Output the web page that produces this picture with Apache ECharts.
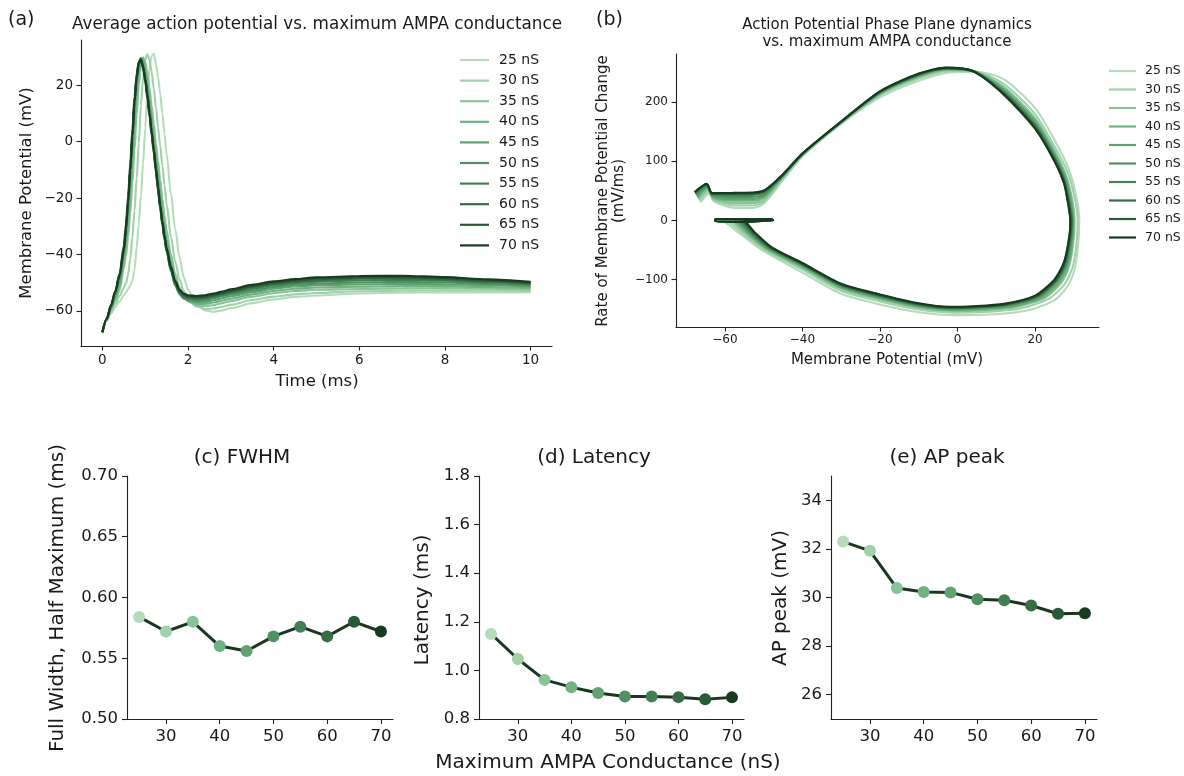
<!DOCTYPE html>
<html>
<head>
<meta charset="utf-8">
<script src="https://cdn.jsdelivr.net/npm/echarts@6/dist/echarts.min.js"></script>
<style>
html,body{margin:0;padding:0;background:#fff;}
#chart{width:1184px;height:776px;}
</style>
</head>
<body>
<div id="chart"></div>
<script>
// ---------------- DATA ----------------
const seriesNames = ['25 nS','30 nS','35 nS','40 nS','45 nS','50 nS','55 nS','60 nS','65 nS','70 nS'];
const conductance = [25, 30, 35, 40, 45, 50, 55, 60, 65, 70];
const greens = ['#b4dcbb','#a0d1a9','#89c498','#71b283','#61a272','#509163','#428053','#356d44','#275a35','#183a21'];

// (a) membrane potential (mV) vs time (ms)
const timeMs = [0,0.1,0.2,0.3,0.4,0.5,0.55,0.6,0.65,0.7,0.75,0.8,0.85,0.9,0.95,1.0,1.05,1.1,1.15,1.2,1.25,1.3,1.35,1.4,1.45,1.5,1.6,1.7,1.8,1.9,2.0,2.2,2.4,2.6,2.8,3.0,3.5,4.0,4.5,5,6,7,8,9,10];
const v25 = [-67.5,-63.4,-60.9,-58.7,-56.6,-54.5,-53.4,-52.3,-51.0,-49.2,-45.5,-37.5,-29.0,-19.2,-7.7,4.8,17.4,26.2,30.4,31.2,27.6,22.8,16.9,10.1,2.8,-4.5,-18.5,-31.0,-41.0,-48.0,-52.5,-57.5,-59.8,-60.3,-59.8,-59.0,-57.2,-55.9,-55.0,-54.5,-53.8,-53.5,-53.4,-53.4,-53.4];
const v30 = [-67.5,-63.3,-60.3,-57.5,-54.7,-51.8,-50.1,-47.2,-41.5,-34.0,-24.5,-13.0,-0.5,12.7,22.8,29.0,31.0,29.0,24.6,18.9,12.2,5.1,-1.6,-8.6,-15.4,-22.2,-33.8,-42.5,-48.8,-53.0,-55.7,-58.4,-59.3,-59.1,-58.5,-57.8,-56.1,-54.9,-54.1,-53.6,-53.0,-52.8,-52.7,-52.8,-52.9];
const v35 = [-67.5,-63.3,-59.8,-56.5,-52.8,-45.0,-40.4,-34.0,-25.3,-14.7,-2.9,9.6,20.0,26.6,29.9,28.4,24.3,19.0,12.8,6.1,-0.6,-6.8,-13.5,-20.1,-26.0,-31.4,-40.0,-46.8,-51.6,-54.8,-56.6,-58.1,-58.3,-57.9,-57.2,-56.5,-54.9,-53.7,-52.9,-52.5,-52.2,-52.0,-51.9,-52.1,-52.4];
const v40 = [-67.5,-63.2,-59.3,-55.5,-51.2,-42.6,-36.8,-29.0,-19.2,-7.7,4.5,16.2,24.3,28.8,29.5,26.2,21.4,15.3,8.9,2.1,-4.2,-11.0,-17.6,-23.9,-29.6,-34.6,-42.3,-48.4,-52.5,-55.0,-56.4,-57.5,-57.5,-57.0,-56.3,-55.6,-54.1,-52.9,-52.1,-51.7,-51.4,-51.2,-51.2,-51.5,-51.9];
const v45 = [-67.5,-63.1,-59.0,-54.8,-50.0,-40.4,-34.0,-25.3,-14.7,-2.9,9.6,19.8,26.3,29.6,28.2,24.2,19.0,12.8,6.1,-0.5,-7.2,-13.8,-20.4,-26.3,-31.8,-36.5,-43.6,-49.2,-52.8,-55.0,-56.2,-56.9,-56.8,-56.2,-55.5,-54.8,-53.3,-52.1,-51.3,-50.9,-50.6,-50.4,-50.5,-50.9,-51.4];
const v50 = [-67.5,-63.0,-58.7,-54.2,-48.5,-39.2,-31.5,-21.9,-10.4,2.0,14.3,23.1,28.2,29.5,26.9,22.5,16.8,10.2,3.3,-3.3,-10.2,-17.0,-23.5,-29.4,-34.7,-39.2,-46.0,-51.0,-54.1,-55.6,-56.1,-56.4,-56.1,-55.5,-54.8,-54.1,-52.7,-51.5,-50.7,-50.3,-49.9,-49.7,-49.9,-50.4,-51.0];
const v55 = [-67.5,-62.9,-58.4,-53.7,-47.9,-38.8,-31.2,-21.7,-10.3,2.0,14.2,23.0,28.1,29.4,26.8,22.4,16.7,10.2,3.4,-3.1,-9.9,-16.6,-23.1,-28.9,-34.2,-38.7,-45.4,-50.5,-53.6,-55.1,-55.6,-55.9,-55.6,-55.0,-54.3,-53.6,-52.1,-50.9,-50.1,-49.6,-49.2,-49.0,-49.3,-49.9,-50.6];
const v60 = [-67.5,-62.8,-58.2,-53.3,-47.4,-38.5,-31.0,-21.5,-10.2,2.0,14.1,22.9,28.0,29.3,26.7,22.3,16.6,10.2,3.5,-2.9,-9.7,-16.3,-22.8,-28.5,-33.8,-38.2,-44.9,-50.0,-53.1,-54.6,-55.2,-55.5,-55.2,-54.6,-53.9,-53.2,-51.6,-50.4,-49.6,-49.1,-48.6,-48.5,-48.8,-49.5,-50.3];
const v65 = [-67.5,-62.8,-58.1,-53.1,-46.8,-36.8,-28.9,-19.2,-7.7,4.5,16.0,24.1,28.3,28.9,25.8,21.0,15.3,8.8,2.2,-4.1,-10.8,-17.4,-23.6,-29.2,-34.3,-38.5,-45.0,-49.9,-52.9,-54.3,-54.9,-55.1,-54.9,-54.3,-53.6,-52.8,-51.2,-50.0,-49.2,-48.6,-48.1,-48.0,-48.4,-49.2,-50.0];
const v70 = [-67.5,-62.7,-58.0,-53.0,-47.3,-38.3,-30.8,-21.3,-10.1,2.0,14.0,22.7,27.7,29.0,26.5,22.2,16.6,10.2,3.5,-2.8,-9.5,-16.1,-22.5,-28.1,-33.4,-37.7,-44.3,-49.4,-52.5,-53.8,-54.4,-54.7,-54.4,-53.8,-53.1,-52.3,-50.7,-49.5,-48.7,-48.1,-47.6,-47.5,-48.0,-48.8,-49.7];

// (b) phase plane: [membrane potential (mV), dV/dt (mV/ms)]
const p25 = [[-66.3,30],[-64.0,45],[-62.8,32],[-58,21.5],[-53,21],[-50,28],[-45,68],[-40,108],[-30,163],[-20,208],[-10,236],[-2,250],[5,251],[12,238],[20,190],[25,136],[28.5,90],[30.5,45],[31.4,0],[31.2,-35],[30.3,-80],[28.5,-110],[25,-135],[18,-152],[8,-159],[0,-160],[-10,-155],[-20,-142],[-30,-124],[-40,-88],[-50,-52],[-55,-28],[-58.5,-10],[-60.3,0],[-58,2],[-55.5,1.5],[-53.6,0.3],[-53.4,0],[-55,-2.5],[-62.5,-2],[-62.3,2.5],[-48,2.5],[-47.5,0]];
const p30 = [[-66.5,32.8],[-64.2,48],[-62.9,34.2],[-58,25.3],[-52.8,25.1],[-49.9,31.7],[-45,71],[-40,109.5],[-30,164.2],[-20,211],[-10,239.6],[-2.3,252.4],[4.7,251.3],[12,230.2],[20,179.5],[25,125.2],[28.4,81.6],[30.2,39],[31.0,0],[30.8,-32],[29.8,-77],[27.7,-107],[23.5,-132.6],[16.2,-148.7],[6.8,-154.8],[-0.6,-155.8],[-10,-150.5],[-20,-136.9],[-30,-118.9],[-40,-83.2],[-49.6,-50.7],[-54.5,-26.9],[-57.7,-9.5],[-59.3,0],[-56.9,2.1],[-54.4,1.5],[-52.7,0.1],[-52.9,-0.1],[-55,-2.5],[-62.5,-2],[-62.3,2.5],[-48,2.5],[-47.5,0]];
const p35 = [[-66.8,35.5],[-64.4,51],[-63.0,36.3],[-58,29.2],[-52.7,29.2],[-49.8,35.4],[-45,73],[-40,110.5],[-30,165],[-20,213],[-10,242],[-2.5,254],[4.5,251.5],[12,225],[20,172.5],[25,118],[28,76],[29.6,35],[30.2,0],[30.0,-30],[28.9,-75],[26.8,-105],[22.5,-131],[15,-146.5],[6,-152],[-1,-153],[-10,-147.5],[-20,-133.5],[-30,-115.5],[-40,-80],[-49.3,-49.5],[-53.9,-25.8],[-56.9,-8.9],[-58.3,0],[-55.8,2.2],[-53.3,1.5],[-51.9,0.1],[-52.4,-0.2],[-55,-2.5],[-62.5,-2],[-62.3,2.5],[-48,2.5],[-47.5,0]];
const p40 = [[-67.0,38.3],[-64.5,54],[-63.0,38.5],[-58,33.1],[-52.5,33.2],[-49.8,39.1],[-45,74],[-40,111],[-30,165.4],[-20,214],[-10,243.2],[-2.6,254.8],[4.4,251.6],[12,222.4],[20,169],[25,114.4],[27.9,73.2],[29.4,33],[29.9,0],[29.8,-29],[28.7,-74],[26.4,-104],[22,-130.2],[14.4,-145.6],[5.6,-150.6],[-1.2,-151.6],[-10,-146],[-20,-131.8],[-30,-113.8],[-40,-78.4],[-49.0,-48.6],[-53.6,-25.1],[-56.3,-8.6],[-57.6,0],[-55.1,2.2],[-52.7,1.5],[-51.2,0.1],[-51.9,-0.3],[-55,-2.5],[-62.5,-2],[-62.3,2.5],[-48,2.5],[-47.5,0]];
const p45 = [[-67.2,40.4],[-64.5,56],[-63.1,40.1],[-58,35.9],[-52.4,36.3],[-49.7,41.8],[-45,75],[-40,111.5],[-30,165.8],[-20,215],[-10,244.4],[-2.7,255.6],[4.3,251.7],[12,219.8],[20,165.5],[25,110.8],[27.8,70.4],[29.2,31],[29.8,0],[29.6,-28],[28.4,-73],[26,-103],[21.5,-129.4],[13.8,-144.3],[5.2,-149.2],[-1.4,-150.2],[-10,-144.5],[-20,-130.1],[-30,-112.1],[-40,-76.8],[-48.8,-47.9],[-53.2,-24.5],[-55.8,-8.2],[-57.0,0],[-54.5,2.3],[-52.1,1.5],[-50.4,0.1],[-51.4,-0.3],[-55,-2.5],[-62.5,-2],[-62.3,2.5],[-48,2.5],[-47.5,0]];
const p50 = [[-67.4,42.8],[-64.6,58],[-63.1,42],[-58,39.3],[-52.3,39.9],[-49.6,45],[-45,75.8],[-40,111.9],[-30,166.1],[-20,215.8],[-10,245.4],[-2.8,256.2],[4.2,251.8],[12,217.7],[20,162.7],[25,107.9],[27.7,68.2],[29.0,29.4],[29.6,0],[29.4,-27.2],[28.1,-72.2],[25.6,-102.2],[20.9,-128.8],[13.3,-143.2],[4.9,-147.8],[-1.6,-148.9],[-10,-143.3],[-20,-128.7],[-30,-110.7],[-40,-75.5],[-48.6,-47.1],[-52.9,-24.1],[-55.4,-7.9],[-56.4,0],[-53.8,2.4],[-51.3,1.5],[-49.7,0.05],[-51.0,-0.4],[-55,-2.5],[-62.5,-2],[-62.3,2.5],[-48,2.5],[-47.5,0]];
const p55 = [[-67.6,45.2],[-64.6,60],[-63.2,43.8],[-58,42.7],[-52.2,43.4],[-49.6,48.3],[-45,76.5],[-40,112.3],[-30,166.4],[-20,216.5],[-10,246.2],[-2.9,256.8],[4.2,251.9],[12,215.9],[20,160.3],[25,105.4],[27.6,66.2],[28.8,28],[29.5,0],[29.2,-26.5],[27.9,-71.5],[25.5,-101.5],[20.8,-128.2],[12.9,-142.4],[4.6,-147.1],[-1.7,-148.1],[-10,-142.3],[-20,-127.6],[-30,-109.6],[-40,-74.4],[-48.4,-46.5],[-52.6,-23.7],[-54.9,-7.6],[-55.9,0],[-53.2,2.4],[-50.8,1.5],[-49.0,0],[-50.6,-0.5],[-55,-2.5],[-62.5,-2],[-62.3,2.5],[-48,2.5],[-47.5,0]];
const p60 = [[-67.7,46.6],[-64.7,61.2],[-63.2,44.9],[-58,44.6],[-52.1,45.5],[-49.5,50.2],[-45,77],[-40,112.5],[-30,166.6],[-20,217],[-10,246.8],[-2.9,257.2],[4.1,251.9],[12,214.6],[20,158.5],[25,103.6],[27.6,64.8],[28.8,27],[29.4,0],[29.1,-26],[27.8,-71],[25.4,-101],[20.5,-127.8],[12.6,-141.9],[4.4,-146.4],[-1.8,-147.4],[-10,-141.5],[-20,-126.7],[-30,-108.7],[-40,-73.6],[-48.3,-46.0],[-52.4,-23.4],[-54.6,-7.4],[-55.5,0],[-52.8,2.4],[-50.3,1.5],[-48.5,0],[-50.3,-0.5],[-55,-2.5],[-62.5,-2],[-62.3,2.5],[-48,2.5],[-47.5,0]];
const p65 = [[-67.7,47.3],[-64.7,61.6],[-63.3,45.5],[-58,45.5],[-52.0,46.5],[-49.5,51.1],[-45,77.5],[-40,112.8],[-30,166.8],[-20,217.5],[-10,247.4],[-3,257.6],[4.0,252],[12,213.3],[20,156.8],[25,101.8],[27.5,63.4],[28.7,26],[29.1,0],[28.9,-25.5],[27.6,-70.5],[25.2,-100.5],[20.3,-127.4],[12.3,-141.6],[4.2,-145.7],[-1.9,-146.7],[-10,-140.8],[-20,-125.9],[-30,-107.9],[-40,-72.8],[-48.1,-45.5],[-52.2,-22.4],[-54.3,-7.2],[-55.1,0],[-52.4,2.5],[-49.9,1.5],[-48.0,0],[-50.0,-0.5],[-55,-2.5],[-62.5,-2],[-62.3,2.5],[-48,2.5],[-47.5,0]];
const p70 = [[-67.8,48],[-64.7,62],[-63.3,46],[-58,46.5],[-52,47.5],[-49.5,52],[-45,78],[-40,113],[-30,167],[-20,218],[-10,248],[-3,258],[4,252],[12,212],[20,155],[25,100],[27.5,62],[28.6,25],[29.1,0],[28.9,-25],[27.5,-70],[25,-100],[20,-127],[12,-141],[4,-145],[-2,-146],[-10,-140],[-20,-125],[-30,-107],[-40,-72],[-48,-45],[-52,-22],[-54,-7],[-54.7,0],[-52,2.5],[-49.5,1.5],[-47.5,0],[-49.7,-0.6],[-55,-2.5],[-62.5,-2],[-62.3,2.5],[-48,2.5],[-47.5,0]];

// (c)-(e) summary measures
const fwhm = [0.584, 0.572, 0.580, 0.560, 0.556, 0.568, 0.576, 0.568, 0.580, 0.572];
const latency = [1.150, 1.047, 0.961, 0.931, 0.907, 0.893, 0.893, 0.890, 0.881, 0.889];
const apPeak = [32.30, 31.92, 30.39, 30.23, 30.21, 29.93, 29.89, 29.67, 29.33, 29.35];

// tick labels
const ticksA_x = [0, 2, 4, 6, 8, 10];
const ticksA_y = [-60, -40, -20, 0, 20];
const ticksB_x = [-60, -40, -20, 0, 20];
const ticksB_y = [-100, 0, 100, 200];
const ticksBottom_x = [30, 40, 50, 60, 70];
const ticksC_y = [0.50, 0.55, 0.60, 0.65, 0.70];
const ticksD_y = [0.8, 1.0, 1.2, 1.4, 1.6, 1.8];
const ticksE_y = [26, 28, 30, 32, 34];

// ---------------- CHART ----------------
const FONT = 'DejaVu Sans';
const INK = '#1a1a1a';
const voltageTraces = [v25, v30, v35, v40, v45, v50, v55, v60, v65, v70];
const phaseTraces = [p25, p30, p35, p40, p45, p50, p55, p60, p65, p70];

function fmtMinus(v, dec) {
  const s = dec == null ? String(v) : Number(v).toFixed(dec);
  return s.replace('-', '\u2212');
}

function makeAxis(opts) {
  return Object.assign({
    type: 'value',
    scale: false,
    splitLine: { show: false },
    axisLine: { show: true, onZero: false, lineStyle: { color: '#222', width: 1.1 } },
    axisTick: { show: true, inside: false, length: opts.tickLen || 4.5, lineStyle: { color: '#222', width: 1.1 }, customValues: opts.ticks },
    axisLabel: {
      show: true, color: INK, fontFamily: FONT, fontSize: opts.fontSize, margin: opts.margin,
      customValues: opts.ticks,
      formatter: (v) => fmtMinus(v, opts.dec)
    }
  }, opts.extra || {});
}

const grids = [
  { left: 81, top: 40, width: 471, height: 306 },
  { left: 676, top: 54, width: 423, height: 273 },
  { left: 127, top: 476, width: 266, height: 243 },
  { left: 479, top: 476, width: 265, height: 243 },
  { left: 831, top: 476, width: 266, height: 243 }
].map(g => Object.assign(g, { containLabel: false, outerBoundsMode: 'none' }));

const xAxes = [
  makeAxis({ ticks: ticksA_x, fontSize: 13.5, margin: 7, extra: { gridIndex: 0, min: -0.5, max: 10.5 } }),
  makeAxis({ ticks: ticksB_x, fontSize: 12, margin: 7, extra: { gridIndex: 1, min: -72.6, max: 36.5 } }),
  makeAxis({ ticks: ticksBottom_x, fontSize: 16.5, margin: 9, tickLen: 5, extra: { gridIndex: 2, min: 22.75, max: 72.25 } }),
  makeAxis({ ticks: ticksBottom_x, fontSize: 16.5, margin: 9, tickLen: 5, extra: { gridIndex: 3, min: 22.75, max: 72.25 } }),
  makeAxis({ ticks: ticksBottom_x, fontSize: 16.5, margin: 9, tickLen: 5, extra: { gridIndex: 4, min: 22.75, max: 72.25 } })
];
const yAxes = [
  makeAxis({ ticks: ticksA_y, fontSize: 13.5, margin: 8, extra: { gridIndex: 0, min: -72.4, max: 36 } }),
  makeAxis({ ticks: ticksB_y, fontSize: 12, margin: 8, extra: { gridIndex: 1, min: -180, max: 281 } }),
  makeAxis({ ticks: ticksC_y, fontSize: 16.5, margin: 9, tickLen: 5, dec: 2, extra: { gridIndex: 2, min: 0.5, max: 0.7 } }),
  makeAxis({ ticks: ticksD_y, fontSize: 16.5, margin: 9, tickLen: 5, dec: 1, extra: { gridIndex: 3, min: 0.8, max: 1.8 } }),
  makeAxis({ ticks: ticksE_y, fontSize: 16.5, margin: 9, tickLen: 5, extra: { gridIndex: 4, min: 25, max: 35 } })
];

const series = [];
voltageTraces.forEach((arr, k) => {
  series.push({
    type: 'line', name: seriesNames[k], xAxisIndex: 0, yAxisIndex: 0,
    data: timeMs.map((t, i) => [t, arr[i]]),
    symbol: 'none', showSymbol: false, smooth: 0.3, smoothMonotone: 'x',
    color: greens[k], lineStyle: { width: 2.1, color: greens[k] }, z: 2 + k, silent: true
  });
});
phaseTraces.forEach((arr, k) => {
  series.push({
    type: 'line', name: seriesNames[k], xAxisIndex: 1, yAxisIndex: 1,
    data: arr,
    symbol: 'none', showSymbol: false, smooth: 0.25,
    color: greens[k], lineStyle: { width: 2.1, color: greens[k] }, z: 2 + k, silent: true
  });
});
[fwhm, latency, apPeak].forEach((vals, j) => {
  series.push({
    type: 'line', name: 'summary' + j, xAxisIndex: 2 + j, yAxisIndex: 2 + j,
    data: conductance.map((c, i) => ({ value: [c, vals[i]], itemStyle: { color: greens[i] } })),
    symbol: 'circle', symbolSize: 12, showSymbol: true,
    lineStyle: { width: 3, color: '#1b3621' },
    itemStyle: { borderWidth: 0 },
    z: 3, silent: true
  });
});

function txt(text, x, y, size, extra) {
  return Object.assign({
    type: 'text', x: x, y: y, silent: true,
    style: { text: text, font: size + 'px "' + FONT + '"', fill: INK, align: 'center', verticalAlign: 'middle' }
  }, extra || {});
}
const R = Math.PI / 2;
const graphics = [
  txt('(a)', 8, 20, 19, { style: { text: '(a)', font: '19px "' + FONT + '"', fill: INK, align: 'left', verticalAlign: 'middle' } }),
  txt('Average action potential vs. maximum AMPA conductance', 317, 25, 16.8),
  txt('Membrane Potential (mV)', 27, 193, 16.5, { rotation: R }),
  txt('Time (ms)', 317, 382, 16.5),
  txt('(b)', 596, 20, 19, { style: { text: '(b)', font: '19px "' + FONT + '"', fill: INK, align: 'left', verticalAlign: 'middle' } }),
  txt('Action Potential Phase Plane dynamics', 887, 25, 15),
  txt('vs. maximum AMPA conductance', 887, 42, 15),
  txt('Rate of Membrane Potential Change', 603, 191, 15, { rotation: R }),
  txt('(mV/ms)', 619, 191, 15, { rotation: R }),
  txt('Membrane Potential (mV)', 887, 360, 15),
  txt('(c) FWHM', 242, 458, 20),
  txt('(d) Latency', 594, 458, 20),
  txt('(e) AP peak', 947, 458, 20),
  txt('Full Width, Half Maximum (ms)', 58, 598, 20, { rotation: R }),
  txt('Latency (ms)', 423, 600, 20, { rotation: R }),
  txt('AP peak (mV)', 781, 598, 20, { rotation: R }),
  txt('Maximum AMPA Conductance (nS)', 608, 763, 20)
];

const option = {
  animation: false,
  backgroundColor: '#ffffff',
  textStyle: { fontFamily: FONT },
  grid: grids,
  xAxis: xAxes,
  yAxis: yAxes,
  legend: [
    {
      data: seriesNames, orient: 'vertical', left: 460, top: 52, padding: 0,
      icon: 'rect', itemWidth: 29, itemHeight: 2.2, itemGap: 4.6, selectedMode: false,
      textStyle: { fontFamily: FONT, fontSize: 14, color: INK, lineHeight: 16, padding: [0, 0, 0, 5] }
    },
    {
      data: seriesNames, orient: 'vertical', left: 1109, top: 64, padding: 0,
      icon: 'rect', itemWidth: 27, itemHeight: 2.2, itemGap: 4.5, selectedMode: false,
      textStyle: { fontFamily: FONT, fontSize: 12.5, color: INK, lineHeight: 14, padding: [0, 0, 0, 4] }
    }
  ],
  graphic: graphics,
  series: series
};

const chart = echarts.init(document.getElementById('chart'), null, { renderer: 'canvas' });
chart.setOption(option);
</script>
</body>
</html>
